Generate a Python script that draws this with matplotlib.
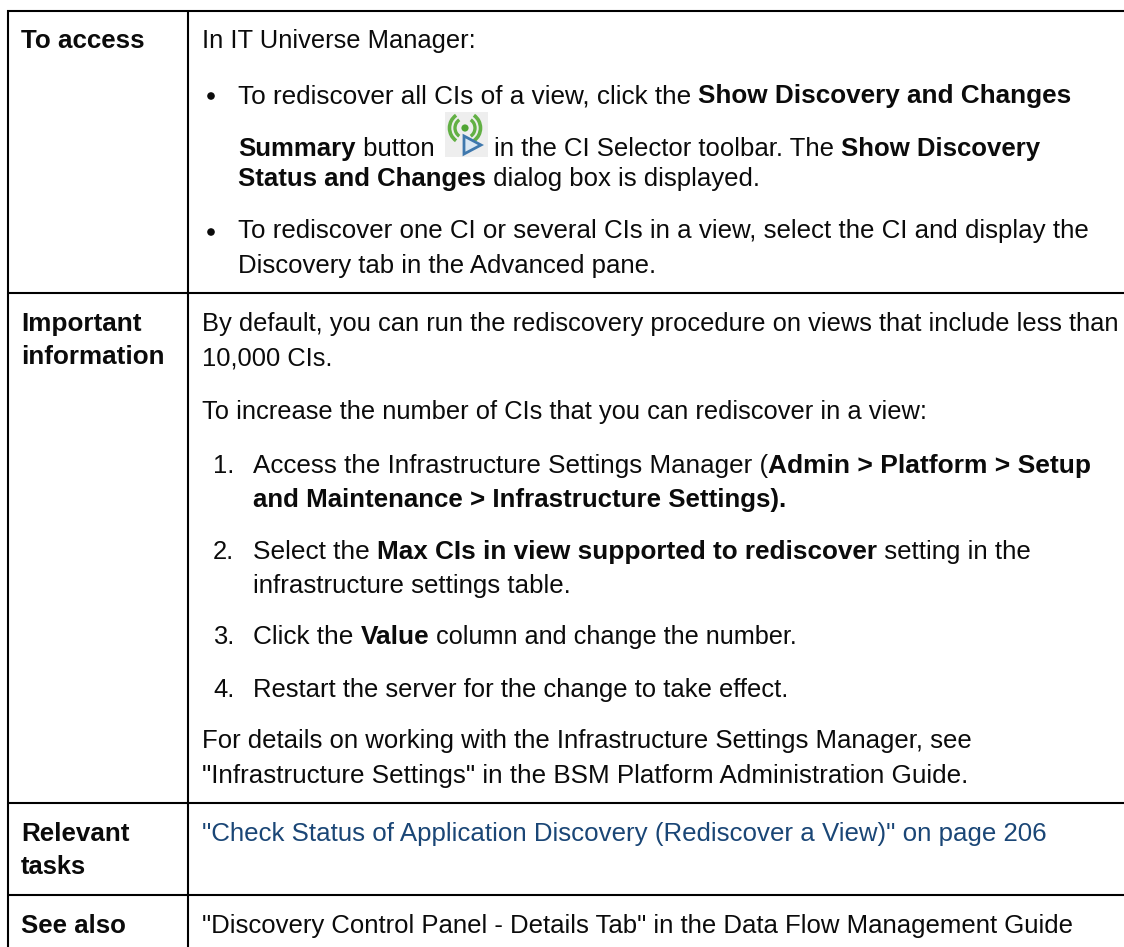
import matplotlib
matplotlib.use("Agg")
import matplotlib.pyplot as plt
from matplotlib.patches import Rectangle, Arc, Polygon, Circle

W, H = 1124, 947
FONT = "Liberation Sans"
SIZE = 18.4
INK = "#0b0b0b"
LINK = "#1a4676"

# Table content: (baseline row, x slot, [(text, bold, width factor), ...])
label_rows = [
    (48, "To access", 1.017), (331, "Important", 1.022), (364, "information", 1.016),
    (841, "Relevant", 1.019), (874, "tasks", 1.0), (933, "See also", 1.015),
]
body_rows = [
    (48, 202, [("In IT Universe Manager:", False, 1.0)]),
    (103, 238, [("To rediscover all CIs of a view, click the ", False, 1.02), ("Show Discovery and Changes", True, 1.022)]),
    (156, 238, [("Summary", True, 1.01), (" button", False, 1.01)]),
    (156, 494, [("in the CI Selector toolbar. The ", False, 1.009), ("Show Discovery", True, 1.009)]),
    (186, 238, [("Status and Changes", True, 1.008), (" dialog box is displayed.", False, 1.008)]),
    (238, 238, [("To rediscover one CI or several CIs in a view, select the CI and display the", False, 1.011)]),
    (273, 238, [("Discovery tab in the Advanced pane.", False, 1.006)]),
    (331, 202, [("By default, you can run the rediscovery procedure on views that include less than", False, 1.0)]),
    (365, 202, [("10,000 CIs.", False, 1.0)]),
    (419, 202, [("To increase the number of CIs that you can rediscover in a view:", False, 1.0)]),
    (473, 253, [("Access the Infrastructure Settings Manager (", False, 1.018), ("Admin > Platform > Setup", True, 1.035)]),
    (507, 253, [("and Maintenance > Infrastructure Settings).", True, 1.011)]),
    (559, 253, [("Select the ", False, 1.025), ("Max CIs in view supported to rediscover", True, 1.023), (" setting in the", False, 1.013)]),
    (593, 253, [("infrastructure settings table.", False, 1.012)]),
    (644, 253, [("Click the ", False, 1.03), ("Value", True, 1.03), (" column and change the number.", False, 0.987)]),
    (697, 253, [("Restart the server for the change to take effect.", False, 1.005)]),
    (748, 202, [("For details on working with the Infrastructure Settings Manager, see", False, 1.007)]),
    (783, 202, [('"Infrastructure Settings" in the BSM Platform Administration Guide.', False, 1.016)]),
    (933, 202, [('"Discovery Control Panel - Details Tab" in the Data Flow Management Guide', False, 1.01)]),
]
link_row = (841, 202, '"Check Status of Application Discovery (Rediscover a View)" on page 206', 1.015)
numbers = [(473, "1."), (559, "2."), (644, "3."), (697, "4.")]
bullet_rows = [96, 232]
hlines = [11, 293, 803, 895]
vlines = [8, 188]

fig = plt.figure(figsize=(W / 100, H / 100), dpi=100, facecolor="white")
ax = fig.add_axes([0, 0, 1, 1])
ax.set_xlim(0, W)
ax.set_ylim(H, 0)
ax.axis("off")

for y in hlines:
    ax.plot([7, W], [y, y], color="black", lw=1.5, solid_capstyle="butt")
for x in vlines:
    ax.plot([x, x], [10, H], color="black", lw=1.5, solid_capstyle="butt")

renderer = fig.canvas.get_renderer()

def advance(s, bold, size):
    t = ax.text(0, 0, "|" + s + "|", family=FONT, fontsize=size, weight="bold" if bold else "normal")
    a = t.get_window_extent(renderer).width
    t.set_text("||")
    b = t.get_window_extent(renderer).width
    t.remove()
    return a - b

def run(y, x, segs, color=INK):
    for s, bold, k in segs:
        size = SIZE * k
        ax.text(x, y, s, family=FONT, fontsize=size, weight="bold" if bold else "normal",
                color=color, va="baseline", ha="left")
        x += advance(s, bold, size)

for y, s, k in label_rows:
    run(y, 21, [(s, True, k)])
for y, x, segs in body_rows:
    run(y, x, segs)
run(link_row[0], link_row[1], [(link_row[2], False, link_row[3])], LINK)
for y, s in numbers:
    run(y, 213, [(s, False, 1.0)])
for y in bullet_rows:
    ax.add_patch(Circle((211, y), 3.8, color=INK, lw=0))

# toolbar icon
ax.add_patch(Rectangle((445, 112), 43, 45, color="#eeeeee", lw=0))
for d, w in ((20, 2.4), (31, 2.6)):
    ax.add_patch(Arc((465, 128), d, d, theta1=125, theta2=235, color="#62b044", lw=w))
    ax.add_patch(Arc((465, 128), d, d, theta1=-55, theta2=55, color="#62b044", lw=w))
ax.add_patch(Circle((465, 128), 3.6, color="#4fa533", lw=0))
ax.add_patch(Polygon([(464, 136), (464, 154), (481, 145)], closed=True, facecolor="#dbe8f3", edgecolor="#3f78ad", lw=2))

fig.savefig("out.png", dpi=100, facecolor="white")
